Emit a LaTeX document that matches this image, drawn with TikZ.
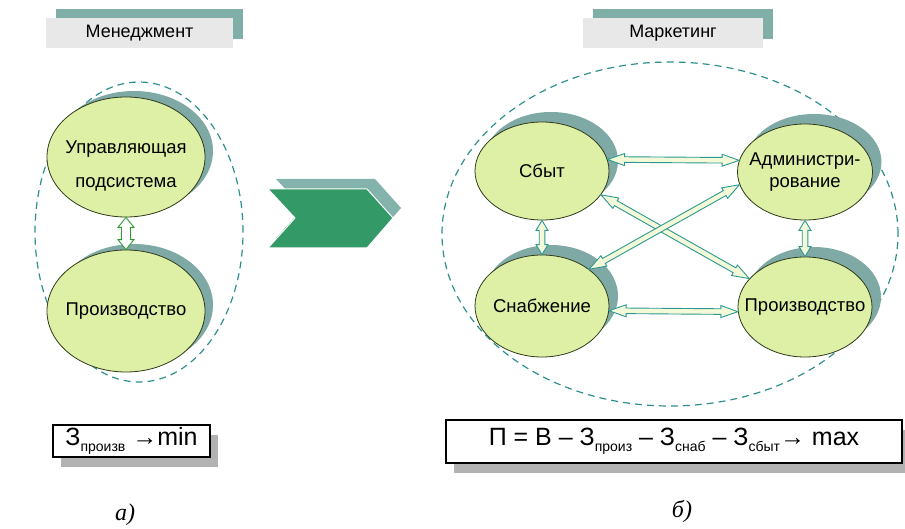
\documentclass[tikz,border=0pt]{standalone}
\usepackage{fontspec}
\setmainfont{Liberation Sans}
\newfontfamily\capfont{Liberation Serif}
\usetikzlibrary{shapes.geometric,shadows,calc}

\definecolor{ellfill}{HTML}{DDF0A6}
\definecolor{ellline}{HTML}{2F3A1A}
\definecolor{shadeteal}{HTML}{7FA9A4}
\definecolor{dashteal}{HTML}{2E8F8F}
\definecolor{tabgray}{HTML}{E8E8E8}
\definecolor{tabteal}{HTML}{80AFA8}
\definecolor{chevgreen}{HTML}{339966}
\definecolor{chevshade}{HTML}{84B3AC}
\definecolor{linkteal}{HTML}{2B9894}
\definecolor{linkfill}{HTML}{F4FAD8}
\definecolor{linkgreen}{HTML}{2E9A2E}

% head length, head half-width and shaft half-width of the block arrows
\def\hl{17}\def\hw{6}\def\sw{2.8}

% two-headed block arrow between two named points
\newcommand\linkarrow[3][]{%
  \path let \p1=($(#3)-(#2)$), \n1={atan2(\y1,\x1)}, \n2={veclen(\x1,\y1)} in
    \pgfextra{\xdef\lnkang{\n1}\xdef\lnklen{\n2}};
  \begin{scope}[shift={(#2)}, rotate=\lnkang]
    \draw[twoway,#1] (0,0) -- (\hl,\hw) -- (\hl,\sw) -- (\lnklen-\hl,\sw)
      -- (\lnklen-\hl,\hw) -- (\lnklen,0) -- (\lnklen-\hl,-\hw) -- (\lnklen-\hl,-\sw)
      -- (\hl,-\sw) -- (\hl,-\hw) -- cycle;
  \end{scope}}

\newcommand\sub[1]{\raisebox{-0.45ex}{\fontsize{14}{14}\selectfont #1}}

\begin{document}
\begin{tikzpicture}[x=1pt,y=-1pt,
  % negative inner sep keeps the ellipse at its minimum size whatever the text
  bubble/.style={ellipse, draw=ellline, line width=0.8pt, fill=ellfill,
    inner xsep=-80pt, inner ysep=-50pt,
    align=center, font=\fontsize{18.5}{22}\selectfont},
  shadeA/.style={general shadow={fill=shadeteal, shadow xshift=8pt, shadow yshift=6pt}},
  shadeB/.style={general shadow={fill=shadeteal, shadow xshift=9pt, shadow yshift=10pt}},
  group/.style={ellipse, draw=dashteal, line width=1.2pt, dash pattern=on 7pt off 5pt, inner sep=0pt},
  tab/.style={fill=tabgray, inner sep=0pt, minimum height=30pt,
    general shadow={fill=tabteal, shadow xshift=10pt, shadow yshift=9pt},
    font=\fontsize{18}{20}\selectfont},
  formula/.style={draw=black, line width=1.2pt, fill=white, inner sep=0pt,
    general shadow={fill=black!30, shadow xshift=8pt, shadow yshift=-10pt}},
  twoway/.style={draw=linkteal, fill=linkfill, line width=0.9pt, line join=miter},
  shortway/.style={/utils/exec={\def\hl{10}\def\hw{6}\def\sw{2.8}}},
  greenway/.style={draw=linkgreen, fill=white, /utils/exec={\def\hl{10}\def\hw{8}\def\sw{4.5}}},
  caption/.style={font=\capfont\itshape\fontsize{24}{26}\selectfont, inner sep=0pt}
]
\useasboundingbox (0,0) rectangle (905,529);

% header tabs
\node[tab, minimum width=187pt] (tabA) at (139.5,33) {Менеджмент};
\node[tab, minimum width=180pt] (tabB) at (673,33) {Маркетинг};

% grouping outlines
\node[group, minimum width=208pt, minimum height=300pt] (grpA) at (139,232) {};
\node[group, minimum width=456pt, minimum height=344pt] (grpB) at (670,234) {};

% management scheme
\node[bubble, shadeA, minimum width=158pt, minimum height=120pt,
      font=\fontsize{18.5}{34}\selectfont] (ctrl) at (126,157) {\rule{0pt}{31pt}Управляющая\\подсистема};
\node[bubble, shadeA, minimum width=158pt, minimum height=122pt] (prodA) at (126,311) {Производство};
\linkarrow[greenway]{ctrl.south}{prodA.north}

% transition chevron
\fill[chevshade] (276,179) -- (375,179) -- (401,208) -- (375,238) -- (276,238) -- (303,208) -- cycle;
\filldraw[fill=chevgreen, draw=white, line width=1pt]
  (268,189) -- (367,189) -- (393,218) -- (367,248) -- (268,248) -- (295,218) -- cycle;

% marketing scheme
\node[bubble, shadeB, minimum width=134pt, minimum height=98pt] (sales) at (542,171) {Сбыт};
\node[bubble, shadeB, minimum width=135pt, minimum height=96pt] (admin) at (805,172) {Администри-\\рование};
\node[bubble, shadeB, minimum width=134pt, minimum height=102pt] (supply) at (542,306) {Снабжение};
\node[bubble, shadeB, minimum width=134pt, minimum height=100pt] (prodB) at (805,307) {Производство};

\linkarrow{sales.10}{admin.170}
\linkarrow{supply.-4}{prodB.184}
\linkarrow[shortway]{sales.south}{supply.north}
\linkarrow[shortway]{admin.south}{prodB.north}
\linkarrow{sales.-22}{prodB.153}
\linkarrow{supply.38}{admin.191}

% objective functions
\node[formula, minimum width=157pt, minimum height=32pt] (goalA) at (131.5,441)
  {\fontsize{25}{26}\selectfont З\sub{произв} →min};
\node[formula, minimum width=456pt, minimum height=43pt] (goalB) at (674,441.5)
  {\fontsize{25}{26}\selectfont П = В – З\sub{произ} – З\sub{снаб} – З\sub{сбыт}→ max};

% captions
\node[caption] (capA) at (125,515) {а)};
\node[caption] (capB) at (682,511) {б)};
\end{tikzpicture}
\end{document}
